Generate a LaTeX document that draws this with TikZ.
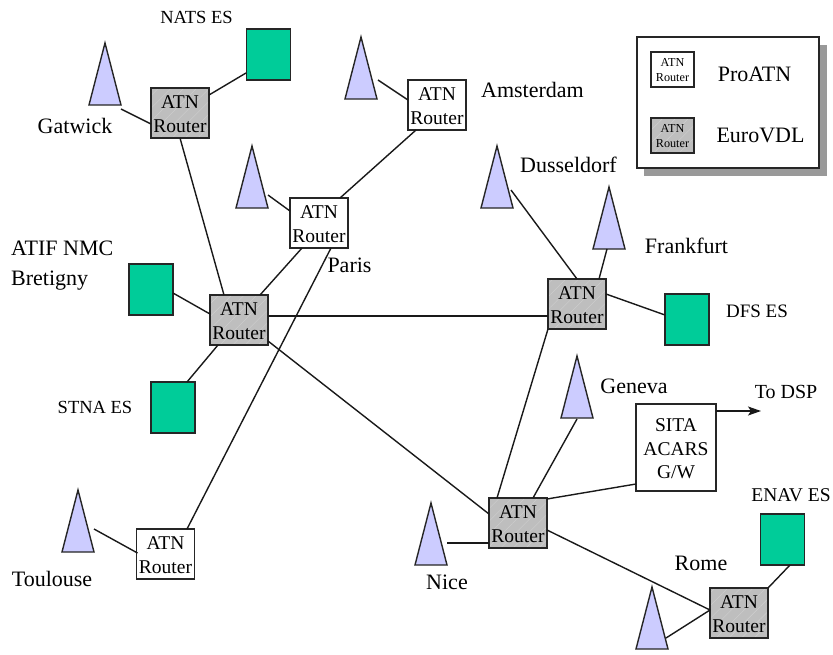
\documentclass[tikz,border=0pt]{standalone}
\usepackage{fontspec}
\setmainfont{Liberation Serif}
\usetikzlibrary{shapes.geometric,arrows.meta,patterns.meta}
\definecolor{esgreen}{HTML}{00CC99}
\definecolor{trifill}{HTML}{CCCCFF}
\definecolor{routergray}{HTML}{BEBEBE}
\definecolor{hatchgray}{HTML}{CFCFCF}
\definecolor{shadowgray}{HTML}{999999}
\newcommand{\topgap}{\rule{0pt}{.82em}}
\tikzset{
  x=1pt,y=-1pt,
  outline/.style={draw=black!85,line width=1.4pt},
  prorouter/.style={outline,fill=white,minimum width=58pt,minimum height=50pt,inner sep=0pt,outer sep=0pt,align=center,font=\fontsize{19.5}{24}\selectfont},
  vdlrouter/.style={prorouter,fill=none,preaction={fill=routergray},preaction={pattern={Lines[angle=45,distance=9pt,line width=.4pt]},pattern color=hatchgray}},
  esbox/.style={outline,fill=esgreen,minimum width=44pt,minimum height=51pt,inner sep=0pt,outer sep=0pt},
  gwbox/.style={outline,fill=white,minimum width=80pt,minimum height=87pt,inner sep=0pt,outer sep=0pt,align=center,font=\fontsize{19.5}{23.5}\selectfont},
  antenna/.style={outline,fill=trifill,shape=isosceles triangle,shape border rotate=90,isosceles triangle apex angle=29,isosceles triangle stretches,minimum height=62pt,minimum width=32pt,inner sep=0pt,outer sep=0pt,anchor=apex},
  big/.style={inner sep=0pt,font=\fontsize{22}{30}\selectfont},
  small/.style={inner sep=0pt,font=\fontsize{18.5}{24}\selectfont},
  link/.style={line width=1.4pt,draw=black!90},
  legendrouter/.style={minimum width=43pt,minimum height=35pt,font=\fontsize{12.2}{15}\selectfont},
}
\begin{document}
\begin{tikzpicture}
\useasboundingbox (0,0) rectangle (833,654);
% legend
\fill[shadowgray] (644,45) rectangle (826.5,176);
\node[outline,fill=white,minimum width=182pt,minimum height=131pt,inner sep=0pt,outer sep=0pt] (legend) at (728,102.5) {};
\node[prorouter,legendrouter] (lpro) at (672.5,69.5) {\topgap ATN\\Router};
\node[vdlrouter,legendrouter] (lvdl) at (672.5,135.5) {\topgap ATN\\Router};
\node[big] (lprot) at (754.5,74.5) {ProATN};
\node[big] (lvdlt) at (760.5,135) {EuroVDL};
% routers
\node[vdlrouter] (gw) at (180,113) {\topgap ATN\\Router};
\node[prorouter] (am) at (437,105) {\topgap ATN\\Router};
\node[prorouter] (pa) at (319,223) {\topgap ATN\\Router};
\node[vdlrouter] (ce) at (239,320) {\topgap ATN\\Router};
\node[vdlrouter] (fr) at (577,304) {\topgap ATN\\Router};
\node[vdlrouter] (ni) at (518,523) {\topgap ATN\\Router};
\node[prorouter] (to) at (165.5,554) {\topgap ATN\\Router};
\node[vdlrouter] (ro) at (739,613) {\topgap ATN\\Router};
\node[gwbox] (sita) at (676,447.5) {\topgap SITA\\ACARS\\G/W};
% earth stations
\node[esbox] (nats) at (268.5,54.5) {};
\node[esbox] (atif) at (151,289.5) {};
\node[esbox] (stna) at (173,407.5) {};
\node[esbox] (dfs) at (687,319.5) {};
\node[esbox] (enav) at (782.5,539.5) {};
% antennas
\node[antenna] (tgw) at (105,43) {};
\node[antenna] (tam) at (361,37) {};
\node[antenna] (tpa) at (252,146) {};
\node[antenna] (tdu) at (497,146) {};
\node[antenna] (tfr) at (609,187) {};
\node[antenna] (tge) at (577,356) {};
\node[antenna] (tni) at (431,503) {};
\node[antenna] (tto) at (78,490) {};
\node[antenna] (tro) at (652,587) {};
% connectors
\draw[link] ([shift={(16,66)}]tgw.apex) -- ([shift={(-29,11)}]gw.center);
\draw[link] ([shift={(29,-18)}]gw.center) -- ([shift={(-22.5,18.5)}]nats.center);
\draw[link] ([shift={(0,25)}]gw.center) -- ([shift={(-15,-25)}]ce.center);
\draw[link] ([shift={(17,43)}]tam.apex) -- ([shift={(-29,-5)}]am.center);
\draw[link] ([shift={(-21,25)}]am.center) -- ([shift={(21,-25)}]pa.center);
\draw[link] ([shift={(16,49)}]tpa.apex) -- ([shift={(-29,-12)}]pa.center);
\draw[link] ([shift={(-17,25)}]pa.center) -- ([shift={(21,-25)}]ce.center);
\draw[link] ([shift={(12,25)}]pa.center) -- ([shift={(21.5,-25)}]to.center);
\draw[link] ([shift={(16,39)}]tto.apex) -- ([shift={(-28,-1)}]to.center);
\draw[link] ([shift={(22,3.5)}]atif.center) -- ([shift={(-29,-6)}]ce.center);
\draw[link] ([shift={(14,-25.5)}]stna.center) -- ([shift={(-21,25)}]ce.center);
\draw[link] ([shift={(29,-4)}]ce.center) -- ([shift={(-29,12)}]fr.center);
\draw[link] ([shift={(29,21)}]ce.center) -- ([shift={(-29,-9)}]ni.center);
\draw[link] ([shift={(14,44)}]tdu.apex) -- ([shift={(0,-25)}]fr.center);
\draw[link] ([shift={(-2,62)}]tfr.apex) -- ([shift={(22,-25)}]fr.center);
\draw[link] ([shift={(29,-10)}]fr.center) -- ([shift={(-22,-4.5)}]dfs.center);
\draw[link] ([shift={(-29,25)}]fr.center) -- ([shift={(-21,-25)}]ni.center);
\draw[link] ([shift={(0,63)}]tge.apex) -- ([shift={(15,-25)}]ni.center);
\draw[link] ([shift={(29,-24)}]ni.center) -- ([shift={(-40,36.5)}]sita.center);
\draw[link] ([shift={(16,40)}]tni.apex) -- ([shift={(-29,20)}]ni.center);
\draw[link] ([shift={(29,7)}]ni.center) -- ([shift={(-29,-3)}]ro.center);
\draw[link] ([shift={(14,51)}]tro.apex) -- ([shift={(-29,-3)}]ro.center);
\draw[link] ([shift={(7.5,25.5)}]enav.center) -- ([shift={(29,-25)}]ro.center);
\coordinate (dspend) at (761,411);
\draw[link,-{Stealth[length=13pt,width=9pt,inset=3pt]}] ([shift={(40,-36.5)}]sita.center) -- (dspend);
% labels
\node[small] (lnats) at (196.5,17) {NATS ES};
\node[big] (lgw) at (75,126) {Gatwick};
\node[big] (lam) at (532.5,90) {Amsterdam};
\node[big] (lpa) at (349.5,265) {Paris};
\node[big,align=left,anchor=west] (latif) at (11,266) {ATIF NMC\\Bretigny};
\node[small] (lstna) at (95,407) {STNA ES};
\node[big] (ldu) at (568.5,165) {Dusseldorf};
\node[big] (lfr) at (686.5,246) {Frankfurt};
\node[small,font=\fontsize{19}{24}\selectfont] (ldfs) at (757,311) {DFS ES};
\node[big] (lge) at (634,386) {Geneva};
\node[small,font=\fontsize{20}{24}\selectfont] (ldsp) at (786,391.5) {To DSP};
\node[small,font=\fontsize{19.5}{24}\selectfont] (lenav) at (791,495) {ENAV ES};
\node[big] (lro) at (701,563) {Rome};
\node[big] (lni) at (447,582) {Nice};
\node[big] (lto) at (52,579) {Toulouse};
\end{tikzpicture}
\end{document}
